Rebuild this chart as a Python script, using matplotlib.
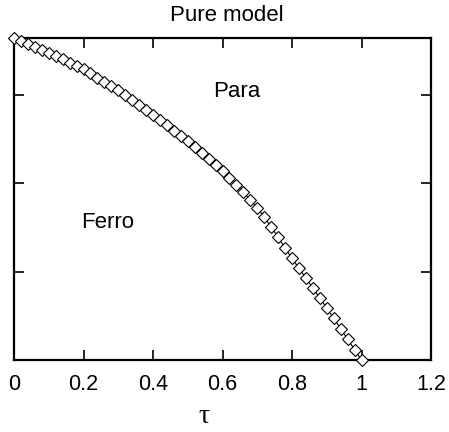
import matplotlib
matplotlib.use("Agg")
import matplotlib.pyplot as plt

tau = [0.00, 0.02, 0.04, 0.06, 0.08, 0.10, 0.12, 0.14, 0.16, 0.18,
       0.20, 0.22, 0.24, 0.26, 0.28, 0.30, 0.32, 0.34, 0.36, 0.38,
       0.40, 0.42, 0.44, 0.46, 0.48, 0.50, 0.52, 0.54, 0.56, 0.58,
       0.60, 0.62, 0.64, 0.66, 0.68, 0.70, 0.72, 0.74, 0.76, 0.78,
       0.80, 0.82, 0.84, 0.86, 0.88, 0.90, 0.92, 0.94, 0.96, 0.98, 1.00]
field = [3.650, 3.617, 3.584, 3.550, 3.515, 3.480, 3.443, 3.405, 3.367, 3.329,
         3.290, 3.245, 3.199, 3.152, 3.104, 3.055, 3.000, 2.945, 2.889, 2.832,
         2.775, 2.716, 2.656, 2.597, 2.536, 2.475, 2.409, 2.342, 2.274, 2.205,
         2.135, 2.058, 1.979, 1.898, 1.814, 1.725, 1.620, 1.507, 1.389, 1.270,
         1.150, 1.039, 0.927, 0.815, 0.702, 0.590, 0.472, 0.354, 0.236, 0.118, 0.000]
xticks = [0, 0.2, 0.4, 0.6, 0.8, 1, 1.2]
xticklabels = ["0", "0.2", "0.4", "0.6", "0.8", "1", "1.2"]
yticks = [1, 2, 3]

plt.rcParams['font.family'] = ['Liberation Sans', 'DejaVu Sans']

fig = plt.figure(figsize=(4.49, 4.32), dpi=100)
ax = fig.add_axes([14/449, 1-360/432, (431-14)/449, (360-37.7)/432])

ax.plot(tau, field, color='black', lw=0.8, marker='D', markersize=6.4,
        markerfacecolor='white', markeredgecolor='black', markeredgewidth=0.8,
        clip_on=False, zorder=3)

ax.set_xlim(0, 1.2)
ax.set_ylim(0, 3.65)
ax.set_xticks(xticks)
ax.set_xticklabels(xticklabels, fontsize=15.5)
ax.set_yticks(yticks)
ax.set_yticklabels([])
ax.tick_params(direction='in', length=7, width=1.2, top=True, right=True,
               labeltop=False, labelright=False, labelleft=False, pad=10)
for s in ax.spines.values():
    s.set_linewidth(1.6)

ax.set_title("Pure model", fontsize=16, pad=12, x=0.51)
ax.set_xlabel("τ", fontsize=20, family=['Liberation Serif', 'DejaVu Serif'])
ax.xaxis.set_label_coords(0.456, -0.175)
ax.xaxis.label.set_va('center')

ax.text(0.573, 3.04, "Para", fontsize=16, ha='left', va='center')
ax.text(0.193, 1.56, "Ferro", fontsize=16, ha='left', va='center')

fig.savefig("out.png", dpi=100)
